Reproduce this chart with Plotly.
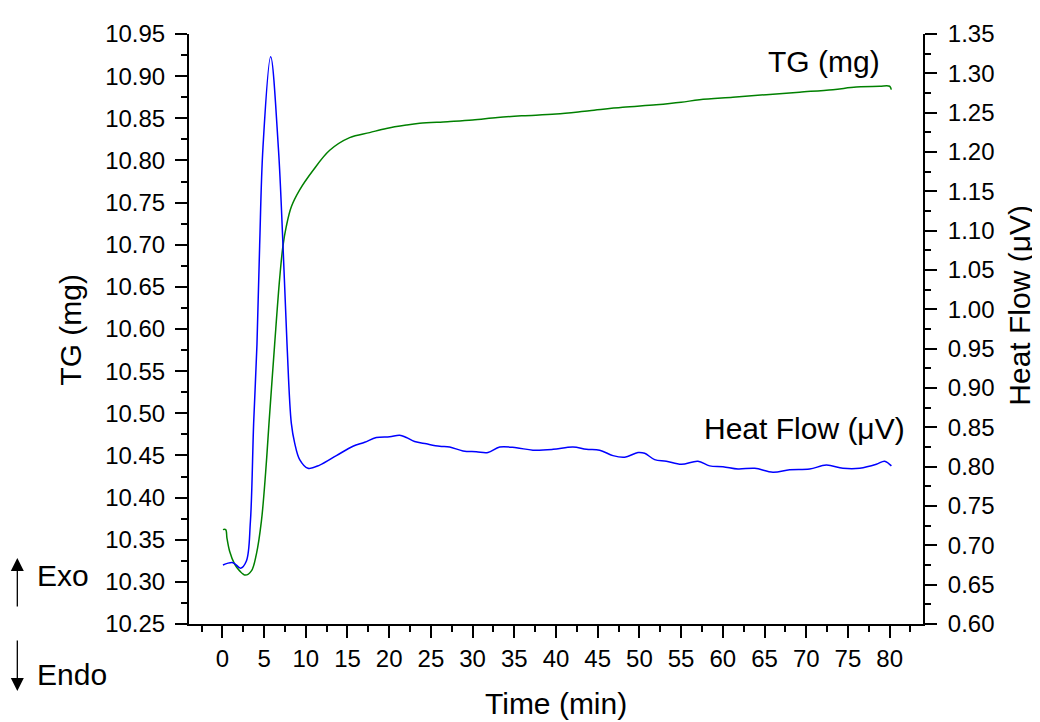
import plotly.graph_objects as go

# TG (mg) curve, left axis
tg_time = [0.07, 0.40, 0.55, 0.88, 1.47, 2.07, 2.76, 3.48, 4.08, 4.68, 5.19, 5.59,
           6.27, 6.87, 7.27, 7.67, 8.27, 9.27, 10.86, 12.87, 15.26, 17.66, 19.66,
           22.06, 23.66, 27.0, 30.0, 33.0, 36.0, 40.0, 44.0, 48.0, 52.0, 55.0,
           57.2, 61.2, 65.2, 69.2, 73.2, 76.0, 78.8, 80.0, 80.2]
tg_mg = [10.362, 10.362, 10.352, 10.336, 10.321, 10.313, 10.308, 10.313, 10.333,
         10.372, 10.430, 10.488, 10.582, 10.660, 10.699, 10.722, 10.745, 10.765,
         10.788, 10.812, 10.827, 10.833, 10.838, 10.842, 10.844, 10.846, 10.848,
         10.851, 10.853, 10.855, 10.859, 10.863, 10.866, 10.869, 10.872, 10.875,
         10.878, 10.881, 10.884, 10.887, 10.888, 10.888, 10.884]

# Heat flow (uV) curve, right axis
hf_time = [0.07, 1.27, 2.19, 2.88, 3.36, 3.75, 4.15, 4.47, 4.87, 5.79, 6.71, 7.27,
           7.75, 8.27, 8.67, 9.27, 10.26, 11.67, 13.67, 15.66, 17.06, 18.46,
           20.06, 21.26, 22.06, 23.05, 24.46, 26.05, 27.25, 28.85, 30.45, 31.84,
           33.25, 35.25, 37.24, 39.64, 42.04, 43.64, 45.23, 46.83, 48.23, 49.83,
           50.63, 51.83, 53.23, 55.03, 57.02, 58.42, 60.02, 61.82, 63.82, 66.01,
           68.01, 70.41, 72.41, 74.40, 76.41, 78.41, 79.40, 80.21]
hf_uv = [0.675, 0.678, 0.671, 0.680, 0.730, 0.855, 0.956, 1.081, 1.206, 1.321,
         1.206, 1.081, 0.956, 0.855, 0.830, 0.809, 0.798, 0.802, 0.814, 0.826,
         0.831, 0.837, 0.838, 0.840, 0.837, 0.832, 0.829, 0.826, 0.825, 0.820,
         0.819, 0.818, 0.825, 0.824, 0.821, 0.822, 0.825, 0.822, 0.821, 0.814,
         0.812, 0.818, 0.817, 0.809, 0.807, 0.803, 0.807, 0.801, 0.800, 0.797,
         0.798, 0.793, 0.796, 0.797, 0.802, 0.798, 0.798, 0.803, 0.807, 0.801]

FONT = "Liberation Sans, Arial, sans-serif"
TICKF = dict(family=FONT, size=24, color="black")
TITLEF = dict(family=FONT, size=30, color="black")

fig = go.Figure()
fig.add_trace(go.Scatter(x=tg_time, y=tg_mg, mode="lines", line=dict(color="#008000", width=1.5, shape="spline"),
                         yaxis="y", showlegend=False))
fig.add_trace(go.Scatter(x=hf_time, y=hf_uv, mode="lines", line=dict(color="#0000FF", width=1.5, shape="spline"),
                         yaxis="y2", showlegend=False))

axis_common = dict(showgrid=False, zeroline=False, showline=True, linecolor="black", linewidth=2,
                   ticks="outside", ticklen=12, tickwidth=2, tickcolor="black", tickfont=TICKF)

# page body has an 8px margin: figure size/margins compensate for it
fig.update_layout(
    width=1032, height=714,
    margin=dict(l=181, r=117, t=17, b=98),
    paper_bgcolor="white", plot_bgcolor="white",
    xaxis=dict(range=[-4, 84], tick0=0, dtick=5, tickmode="linear",
               minor=dict(ticks="outside", ticklen=6, tickwidth=2, tickcolor="black", dtick=2.5, tick0=0),
               **axis_common),
    yaxis=dict(range=[10.25, 10.95], tick0=10.25, dtick=0.05, tickformat=".2f", ticklabelstandoff=5,
               minor=dict(ticks="outside", ticklen=6, tickwidth=2, tickcolor="black", dtick=0.025, tick0=10.25),
               **axis_common),
    yaxis2=dict(range=[0.60, 1.35], tick0=0.60, dtick=0.05, tickformat=".2f", overlaying="y", side="right",
                ticklabelstandoff=6,
                minor=dict(ticks="outside", ticklen=6, tickwidth=2, tickcolor="black", dtick=0.025, tick0=0.6),
                **axis_common),
)

ann = [
    dict(x=72.1, y=10.917, xref="x", yref="y", text="TG (mg)", showarrow=False, font=TITLEF),
    dict(x=69.8, y=0.849, xref="x", yref="y2", text="Heat Flow (μV)", showarrow=False, font=TITLEF),
    dict(x=0.5, y=-0.135, xref="paper", yref="paper", text="Time (min)", showarrow=False, font=TITLEF,
         xanchor="center", yanchor="middle"),
    dict(x=-0.162, y=0.499, xref="paper", yref="paper", text="TG (mg)", showarrow=False, font=TITLEF,
         textangle=-90, xanchor="center", yanchor="middle"),
    dict(x=1.132, y=0.541, xref="paper", yref="paper", text="Heat Flow (μV)", showarrow=False, font=TITLEF,
         textangle=-90, xanchor="center", yanchor="middle"),
    dict(x=-0.2098, y=0.0818, xref="paper", yref="paper", text="Exo", showarrow=False, font=TITLEF,
         xanchor="left", yanchor="middle"),
    dict(x=-0.2098, y=-0.0851, xref="paper", yref="paper", text="Endo", showarrow=False, font=TITLEF,
         xanchor="left", yanchor="middle"),
    dict(x=-0.2339, y=0.1119, xref="paper", yref="paper", text="", showarrow=True, ax=0, ay=50,
         arrowhead=2, arrowsize=2, arrowwidth=1.3, arrowcolor="black"),
    dict(x=-0.2339, y=-0.1135, xref="paper", yref="paper", text="", showarrow=True, ax=0, ay=-52,
         arrowhead=2, arrowsize=2, arrowwidth=1.3, arrowcolor="black"),
]
fig.update_layout(annotations=ann)

fig.write_html("out.html")
